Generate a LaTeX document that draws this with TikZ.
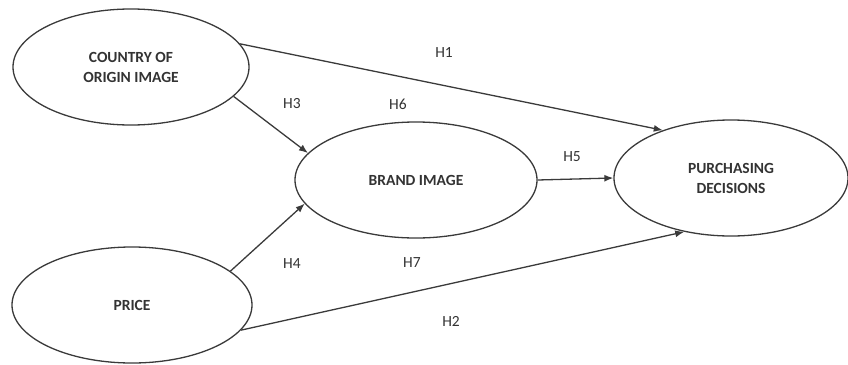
\documentclass[tikz,border=0pt]{standalone}
\usepackage{fontspec}
\setmainfont{Carlito}
\usetikzlibrary{shapes.geometric,arrows.meta}
\definecolor{ink}{HTML}{3A3A3A}
\definecolor{txt}{HTML}{333333}
\tikzset{
  construct/.style={ellipse, draw=ink, line width=1.3pt, inner sep=0pt, align=center,
    text=txt, font=\fontsize{15.5}{20}\selectfont\bfseries},
  path/.style={draw=ink, line width=1.3pt, -{Latex[length=9pt,width=7pt]}},
  hlabel/.style={text=txt, font=\fontsize{15.5}{18}\selectfont, inner sep=0pt}
}
\begin{document}
\begin{tikzpicture}[x=1pt,y=-1pt]
\useasboundingbox (0,0) rectangle (848,364);
\node[construct, minimum width=236pt, minimum height=116pt] (coo) at (131,67) {COUNTRY OF\\ORIGIN IMAGE};
\node[construct, minimum width=242pt, minimum height=116pt] (brand) at (416,180) {BRAND IMAGE};
\node[construct, minimum width=234pt, minimum height=116pt] (pd) at (731,178) {PURCHASING\\DECISIONS};
\node[construct, minimum width=240pt, minimum height=116pt] (price) at (132,305) {PRICE};

\draw[path] (coo.12) -- (pd.145);
\draw[path] (coo.344) -- (brand.166);
\draw[path] (price.19) -- (brand.192);
\draw[path] (brand.0) -- (pd.180);
\draw[path] (price.347) -- (pd.229);

\node[hlabel] (h1) at (444,53) {H1};
\node[hlabel] (h3) at (292,104) {H3};
\node[hlabel] (h6) at (398,104) {H6};
\node[hlabel] (h5) at (572,157) {H5};
\node[hlabel] (h4) at (292,264) {H4};
\node[hlabel] (h7) at (412,263) {H7};
\node[hlabel] (h2) at (451,321) {H2};
\end{tikzpicture}
\end{document}
